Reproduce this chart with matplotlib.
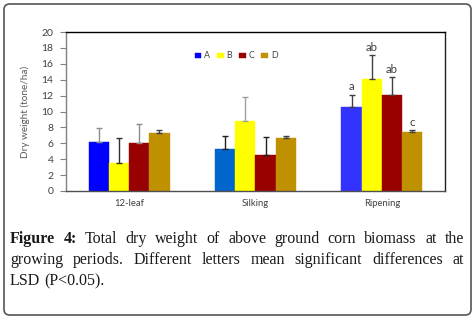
import matplotlib
matplotlib.use('Agg')
import matplotlib.pyplot as plt
import numpy as np
from matplotlib.patches import FancyBboxPatch

# ---------------- data ----------------
categories = ['12-leaf', 'Silking', 'Ripening']
series_names = ['A', 'B', 'C', 'D']
A_vals = [6.2, 5.3, 10.55]
B_vals = [3.58, 8.84, 14.15]
C_vals = [5.98, 4.5, 12.04]
D_vals = [7.33, 6.65, 7.37]
A_err = [1.67, 1.65, 1.58]
B_err = [3.03, 2.99, 2.99]
C_err = [2.40, 2.28, 2.28]
D_err = [0.29, 0.30, 0.25]
ripening_letters = ['a', 'ab', 'ab', 'c']
yticks = list(range(0, 21, 2))
caption_lines = [
    "Figure 4: Total dry weight of above ground corn biomass at the",
    "growing periods. Different letters mean significant differences at",
    "LSD (P<0.05).",
]

# ---------------- styles ----------------
W, H = 475, 319
A_colors = ['#0000FF', '#0066CC', '#3333FF']
series_colors = [None, '#FFFF00', '#990000', '#BF9000']
err_colors = [
    ['#8c8c8c', '#202020', '#404040'],   # A
    ['#303030', '#a0a0a0', '#404040'],   # B
    ['#8c8c8c', '#202020', '#404040'],   # C
    ['#404040', '#404040', '#404040'],   # D
]
chart_font = 'Lato'
cap_font = 'Liberation Serif'

fig = plt.figure(figsize=(W / 100, H / 100), dpi=100)
fig.patch.set_facecolor('white')

# rounded frame around the whole figure
frame = FancyBboxPatch((4 / W, 1 - 315 / H), (471 - 4) / W, (315 - 4) / H,
                       boxstyle="round,pad=0,rounding_size=0.012",
                       mutation_aspect=W / H,
                       transform=fig.transFigure, facecolor='none',
                       edgecolor='#555555', linewidth=1.2, zorder=10)
fig.patches.append(frame)

ax = fig.add_axes([66 / W, 1 - 191 / H, (445 - 66) / W, (191 - 32) / H])
ax.set_facecolor('white')

vals = [A_vals, B_vals, C_vals, D_vals]
errs = [A_err, B_err, C_err, D_err]
x = np.arange(len(categories))
bw = 0.16
offsets = (np.arange(4) - 1.5) * bw

for s in range(4):
    cols = A_colors if s == 0 else [series_colors[s]] * 3
    ax.bar(x + offsets[s], vals[s], width=bw, color=cols, edgecolor=cols,
           linewidth=0.3, label=series_names[s], zorder=2)
    for i in range(3):
        ax.errorbar(x[i] + offsets[s], vals[s][i], yerr=[[0], [errs[s][i]]],
                    fmt='none', ecolor=err_colors[s][i], elinewidth=1.0,
                    capsize=2.5, capthick=1.0, zorder=3)

# significance letters on Ripening
for s in range(4):
    top = vals[s][2] + errs[s][2]
    ax.annotate(ripening_letters[s], (x[2] + offsets[s], top),
                xytext=(0, 1.5), textcoords='offset points',
                ha='center', va='bottom', fontsize=8.3, color='#404040',
                family=chart_font)

ax.set_xlim(-0.5, 2.5)
ax.set_ylim(0, 20)
ax.set_yticks(yticks)
ax.set_yticklabels([str(t) for t in yticks], family=chart_font, fontsize=7.5,
                   color='#404040')
ax.set_xticks(x)
ax.set_xticklabels(categories, family=chart_font, fontsize=6.8, color='#404040')
ax.tick_params(axis='x', length=0, pad=6)
ax.tick_params(axis='y', direction='out', length=4, width=0.8, color='#808080',
               pad=5)

ax.set_ylabel('Dry weight (tone/ha)', family=chart_font, fontsize=7.2,
              color='#595959')
ax.yaxis.set_label_coords((30 - 66) / (445 - 66), 0.5)

ax.spines['left'].set_color('#808080')
ax.spines['bottom'].set_color('#505050')
ax.spines['top'].set_color('#000000')
ax.spines['right'].set_color('#202020')
for sp in ax.spines.values():
    sp.set_linewidth(1.0)

# legend
handles, labels = ax.get_legend_handles_labels()
leg = ax.legend(handles, labels, ncol=4, loc='center',
                bbox_to_anchor=((236 - 66) / 379, (191 - 56) / 159),
                frameon=False, fontsize=6.4, handlelength=0.75, handleheight=0.6,
                handletextpad=0.3, columnspacing=0.8, borderpad=0)
for t in leg.get_texts():
    t.set_family(chart_font)
    t.set_color('#404040')
leg.legend_handles[0].set_color('#0000FF')

# caption with justified lines
cap_fs = 11.5
x0, x1 = 10, 464
baselines = [243, 264, 285]
renderer = fig.canvas.get_renderer()
for li, line in enumerate(caption_lines):
    words = line.split(' ')
    texts = []
    for wi, w in enumerate(words):
        bold = (li == 0 and wi < 2)
        t = fig.text(0, 1 - baselines[li] / H, w, fontsize=cap_fs,
                     family=cap_font, weight='bold' if bold else 'normal',
                     va='baseline', ha='left', color='#1a1a1a')
        texts.append(t)
    widths = [t.get_window_extent(renderer).width for t in texts]
    if li < len(caption_lines) - 1:
        gap = (x1 - x0 - sum(widths)) / (len(texts) - 1)
    else:
        gap = cap_fs * 0.25 * 100 / 72
    xp = x0
    for t, w in zip(texts, widths):
        t.set_x(xp / W)
        xp += w + gap

fig.savefig('out.png', dpi=100)
